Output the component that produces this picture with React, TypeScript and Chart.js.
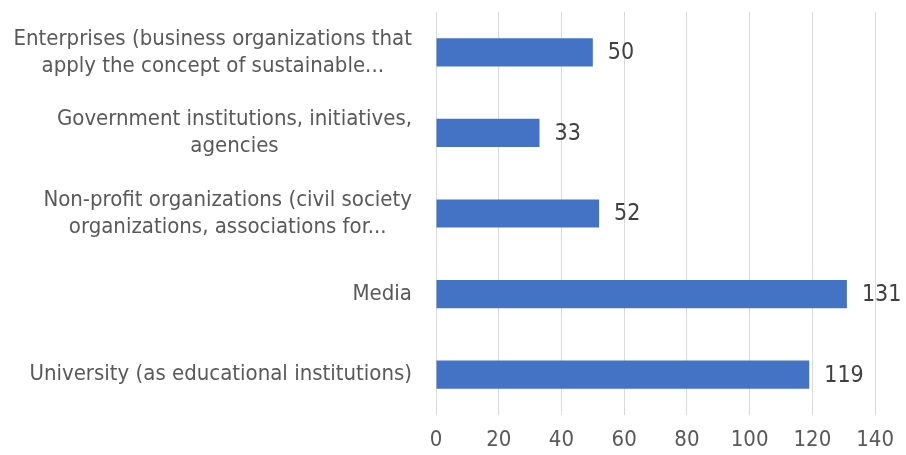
import React, { useEffect, useRef } from "react";
import { Chart, registerables } from "chart.js";

Chart.register(...registerables);

const categoryLines: string[][] = [
  ["Enterprises (business organizations that", "apply the concept of sustainable..."],
  ["Government institutions, initiatives,", "agencies"],
  ["Non-profit organizations (civil society", "organizations, associations for..."],
  ["Media"],
  ["University (as educational institutions)"],
];
const values = [50, 33, 52, 131, 119];
const xMin = 0;
const xMax = 140;
const xStep = 20;

const FONT = "'Liberation Sans Narrow', 'DejaVu Sans Condensed', Lato, sans-serif";
const BAR_COLOR = "#4472C4";
const TEXT_COLOR = "#595959";

const categoryLabelPlugin = {
  id: "categoryLabels",
  afterDraw(chart: any) {
    const { ctx, chartArea } = chart;
    const yScale = chart.scales.y;
    ctx.save();
    ctx.font = `22px ${FONT}`;
    ctx.fillStyle = TEXT_COLOR;
    ctx.textAlign = "center";
    ctx.textBaseline = "middle";
    const right = chartArea.left - 24;
    const lineH = 27;
    categoryLines.forEach((lines, i) => {
      const cy = yScale.getPixelForValue(i);
      const w = Math.max(...lines.map((l) => ctx.measureText(l).width));
      const cx = right - w / 2;
      const startY = cy - ((lines.length - 1) * lineH) / 2;
      lines.forEach((l, j) => ctx.fillText(l, cx, startY + j * lineH));
    });
    ctx.restore();
  },
};

const valueLabelPlugin = {
  id: "valueLabels",
  afterDatasetsDraw(chart: any) {
    const { ctx } = chart;
    const meta = chart.getDatasetMeta(0);
    ctx.save();
    ctx.font = `23px ${FONT}`;
    ctx.fillStyle = "#404040";
    ctx.textAlign = "left";
    ctx.textBaseline = "middle";
    meta.data.forEach((bar: any, i: number) => {
      ctx.fillText(String(values[i]), bar.x + 15, bar.y + 1);
    });
    ctx.restore();
  },
};

export default function App() {
  const ref = useRef<HTMLCanvasElement>(null);
  useEffect(() => {
    if (!ref.current) return;
    const chart = new Chart(ref.current, {
      type: "bar",
      data: {
        labels: categoryLines.map((l) => l.join(" ")),
        datasets: [
          {
            data: values,
            backgroundColor: BAR_COLOR,
            barPercentage: 0.7,
            categoryPercentage: 0.5,
          },
        ],
      },
      options: {
        indexAxis: "y",
        animation: false,
        responsive: true,
        maintainAspectRatio: false,
        layout: { padding: { left: 428, right: 27, top: 12, bottom: 0 } },
        plugins: {
          legend: { display: false },
          tooltip: { enabled: false },
        },
        scales: {
          x: {
            min: xMin,
            max: xMax,
            afterFit: (scale: any) => {
              scale.height = 40;
            },
            ticks: {
              stepSize: xStep,
              color: TEXT_COLOR,
              font: { family: FONT, size: 22 },
              padding: 12,
            },
            grid: { color: "#d9d9d9", drawTicks: false, lineWidth: 1 },
            border: { display: false },
          },
          y: {
            ticks: { display: false },
            grid: { display: false },
            border: { display: false },
          },
        },
      },
      plugins: [categoryLabelPlugin, valueLabelPlugin],
    });
    return () => chart.destroy();
  }, []);
  return (
    <div style={{ position: "fixed", left: 0, top: 0, width: 906, height: 455, background: "#fff" }}>
      <canvas ref={ref} />
    </div>
  );
}
